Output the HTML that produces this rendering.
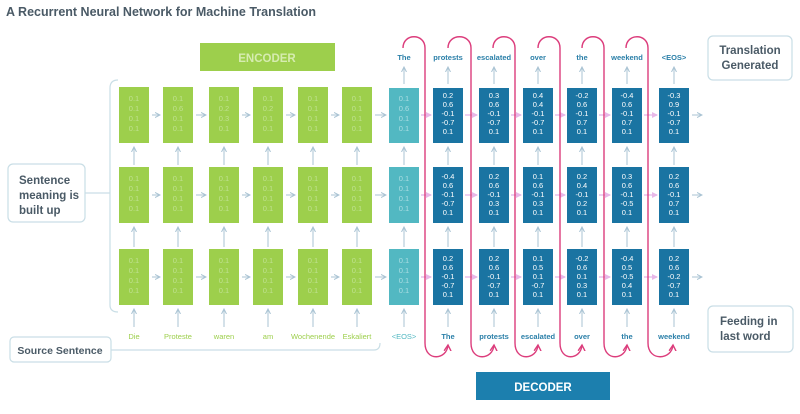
<!DOCTYPE html>
<html><head><meta charset="utf-8"><style>
html,body{margin:0;padding:0;background:#fff;width:800px;height:414px;overflow:hidden}
text{font-family:"Liberation Sans",sans-serif}
</style></head><body>
<svg width="800" height="414" viewBox="0 0 800 414" xmlns="http://www.w3.org/2000/svg">
<defs>
<marker id="a" markerWidth="6" markerHeight="6" refX="5" refY="3" orient="auto" markerUnits="userSpaceOnUse"><path d="M0,0.5 L5,3 L0,5.5" fill="none" stroke="#a9c3d3" stroke-width="1"/></marker>
<marker id="p" markerWidth="7" markerHeight="7" refX="5" refY="3.5" orient="auto" markerUnits="userSpaceOnUse"><path d="M0,0.5 L6,3.5 L0,6.5 Z" fill="#e8b8e8"/></marker>
<marker id="r" markerWidth="8" markerHeight="8" refX="6" refY="4" orient="auto" markerUnits="userSpaceOnUse"><path d="M0,0.5 L6,4 L0,7.5" fill="none" stroke="#dc3d7c" stroke-width="1.4"/></marker>
</defs>
<text x="6" y="16" font-size="12.5" font-weight="bold" fill="#4a5a66">A Recurrent Neural Network for Machine Translation</text>

<rect x="200" y="43" width="135" height="28" fill="#9dcf4c"/>
<text x="267" y="62" font-size="11.5" font-weight="bold" fill="#d6ecb0" text-anchor="middle">ENCODER</text>
<rect x="476" y="372" width="134" height="28" fill="#1c7fae"/>
<text x="543" y="391" font-size="11.5" font-weight="bold" fill="#fff" text-anchor="middle">DECODER</text>

<g fill="#fff" stroke="#c9dee6" stroke-width="1.2">
<rect x="8" y="164" width="77" height="58" rx="5"/>
<rect x="10" y="337" width="101" height="25" rx="4"/>
<rect x="708" y="36" width="84" height="44" rx="5"/>
<rect x="708" y="306" width="85" height="46" rx="5"/>
</g>
<g font-size="11.5" font-weight="bold" fill="#4a5a66">
<text x="19" y="184">Sentence</text><text x="19" y="199">meaning is</text><text x="19" y="214">built up</text>
<text x="60" y="354" font-size="10.5" text-anchor="middle">Source Sentence</text>
<text x="750" y="54" text-anchor="middle">Translation</text><text x="750" y="69" text-anchor="middle">Generated</text>
<text x="720" y="325">Feeding in</text><text x="720" y="340">last word</text>
</g>
<g fill="none" stroke="#c9dee6" stroke-width="1.2">
<path d="M118,80 Q110,80 110,88 L110,305 Q110,312 118,312"/>
<path d="M85,193 L110,193"/>
<path d="M111,350 L374,350 Q380,350 380,343"/>
</g>

<g fill="#9dcf4c">
<rect x="119" y="87" width="30" height="56"/><rect x="163" y="87" width="30" height="56"/><rect x="209" y="87" width="30" height="56"/><rect x="253" y="87" width="30" height="56"/><rect x="298" y="87" width="30" height="56"/><rect x="342" y="87" width="30" height="56"/>
<rect x="119" y="167" width="30" height="56"/><rect x="163" y="167" width="30" height="56"/><rect x="209" y="167" width="30" height="56"/><rect x="253" y="167" width="30" height="56"/><rect x="298" y="167" width="30" height="56"/><rect x="342" y="167" width="30" height="56"/>
<rect x="119" y="249" width="30" height="56"/><rect x="163" y="249" width="30" height="56"/><rect x="209" y="249" width="30" height="56"/><rect x="253" y="249" width="30" height="56"/><rect x="298" y="249" width="30" height="56"/><rect x="342" y="249" width="30" height="56"/>
</g>
<g fill="#52b8c2">
<rect x="389" y="88" width="30" height="55"/><rect x="389" y="167" width="30" height="56"/><rect x="389" y="249" width="30" height="56"/>
</g>
<g fill="#1a74a2">
<rect x="433" y="88" width="30" height="55"/><rect x="479" y="88" width="30" height="55"/><rect x="523" y="88" width="30" height="55"/><rect x="567" y="88" width="30" height="55"/><rect x="612" y="88" width="30" height="55"/><rect x="659" y="88" width="30" height="55"/>
<rect x="433" y="167" width="30" height="56"/><rect x="479" y="167" width="30" height="56"/><rect x="523" y="167" width="30" height="56"/><rect x="567" y="167" width="30" height="56"/><rect x="612" y="167" width="30" height="56"/><rect x="659" y="167" width="30" height="56"/>
<rect x="433" y="249" width="30" height="56"/><rect x="479" y="249" width="30" height="56"/><rect x="523" y="249" width="30" height="56"/><rect x="567" y="249" width="30" height="56"/><rect x="612" y="249" width="30" height="56"/><rect x="659" y="249" width="30" height="56"/>
</g>

<g font-size="7.5" fill="#c8e6a0" text-anchor="middle" opacity="0.8">
<text x="134" y="101">0.1</text><text x="134" y="111">0.1</text><text x="134" y="121">0.1</text><text x="134" y="131">0.1</text><text x="178" y="101">0.1</text><text x="178" y="111">0.6</text><text x="178" y="121">0.1</text><text x="178" y="131">0.1</text><text x="224" y="101">0.1</text><text x="224" y="111">0.2</text><text x="224" y="121">0.3</text><text x="224" y="131">0.1</text><text x="268" y="101">0.1</text><text x="268" y="111">0.2</text><text x="268" y="121">0.1</text><text x="268" y="131">0.1</text><text x="313" y="101">0.1</text><text x="313" y="111">0.1</text><text x="313" y="121">0.1</text><text x="313" y="131">0.1</text><text x="357" y="101">0.1</text><text x="357" y="111">0.1</text><text x="357" y="121">0.1</text><text x="357" y="131">0.1</text>
<text x="134" y="181">0.1</text><text x="134" y="191">0.1</text><text x="134" y="201">0.1</text><text x="134" y="211">0.1</text><text x="178" y="181">0.1</text><text x="178" y="191">0.1</text><text x="178" y="201">0.1</text><text x="178" y="211">0.1</text><text x="224" y="181">0.1</text><text x="224" y="191">0.1</text><text x="224" y="201">0.1</text><text x="224" y="211">0.1</text><text x="268" y="181">0.1</text><text x="268" y="191">0.1</text><text x="268" y="201">0.1</text><text x="268" y="211">0.1</text><text x="313" y="181">0.1</text><text x="313" y="191">0.1</text><text x="313" y="201">0.1</text><text x="313" y="211">0.1</text><text x="357" y="181">0.1</text><text x="357" y="191">0.1</text><text x="357" y="201">0.1</text><text x="357" y="211">0.1</text>
<text x="134" y="263">0.1</text><text x="134" y="273">0.1</text><text x="134" y="283">0.1</text><text x="134" y="293">0.1</text><text x="178" y="263">0.1</text><text x="178" y="273">0.1</text><text x="178" y="283">0.1</text><text x="178" y="293">0.1</text><text x="224" y="263">0.1</text><text x="224" y="273">0.1</text><text x="224" y="283">0.1</text><text x="224" y="293">0.1</text><text x="268" y="263">0.1</text><text x="268" y="273">0.1</text><text x="268" y="283">0.1</text><text x="268" y="293">0.1</text><text x="313" y="263">0.1</text><text x="313" y="273">0.1</text><text x="313" y="283">0.1</text><text x="313" y="293">0.1</text><text x="357" y="263">0.1</text><text x="357" y="273">0.1</text><text x="357" y="283">0.1</text><text x="357" y="293">0.1</text>
</g>
<g font-size="7.5" fill="#bfe6ea" text-anchor="middle" opacity="0.8">
<text x="404" y="101">0.1</text><text x="404" y="111">0.6</text><text x="404" y="121">0.1</text><text x="404" y="131">0.1</text>
<text x="404" y="181">0.1</text><text x="404" y="191">0.1</text><text x="404" y="201">0.1</text><text x="404" y="211">0.1</text>
<text x="404" y="263">0.1</text><text x="404" y="273">0.1</text><text x="404" y="283">0.1</text><text x="404" y="293">0.1</text>
</g>
<g font-size="7.5" fill="#fff" text-anchor="middle">
<text x="448" y="98">0.2</text><text x="448" y="107">0.6</text><text x="448" y="116">-0.1</text><text x="448" y="125">-0.7</text><text x="448" y="134">0.1</text>
<text x="494" y="98">0.3</text><text x="494" y="107">0.6</text><text x="494" y="116">-0.1</text><text x="494" y="125">-0.7</text><text x="494" y="134">0.1</text>
<text x="538" y="98">0.4</text><text x="538" y="107">0.4</text><text x="538" y="116">-0.1</text><text x="538" y="125">-0.7</text><text x="538" y="134">0.1</text>
<text x="582" y="98">-0.2</text><text x="582" y="107">0.6</text><text x="582" y="116">-0.1</text><text x="582" y="125">0.7</text><text x="582" y="134">0.1</text>
<text x="627" y="98">-0.4</text><text x="627" y="107">0.6</text><text x="627" y="116">-0.1</text><text x="627" y="125">0.7</text><text x="627" y="134">0.1</text>
<text x="674" y="98">-0.3</text><text x="674" y="107">0.9</text><text x="674" y="116">-0.1</text><text x="674" y="125">-0.7</text><text x="674" y="134">0.1</text>
<text x="448" y="179">-0.4</text><text x="448" y="188">0.6</text><text x="448" y="197">-0.1</text><text x="448" y="206">-0.7</text><text x="448" y="215">0.1</text>
<text x="494" y="179">0.2</text><text x="494" y="188">0.6</text><text x="494" y="197">-0.1</text><text x="494" y="206">0.3</text><text x="494" y="215">0.1</text>
<text x="538" y="179">0.1</text><text x="538" y="188">0.6</text><text x="538" y="197">-0.1</text><text x="538" y="206">0.3</text><text x="538" y="215">0.1</text>
<text x="582" y="179">0.2</text><text x="582" y="188">0.4</text><text x="582" y="197">-0.1</text><text x="582" y="206">0.2</text><text x="582" y="215">0.1</text>
<text x="627" y="179">0.3</text><text x="627" y="188">0.6</text><text x="627" y="197">-0.1</text><text x="627" y="206">-0.5</text><text x="627" y="215">0.1</text>
<text x="674" y="179">0.2</text><text x="674" y="188">0.6</text><text x="674" y="197">-0.1</text><text x="674" y="206">0.7</text><text x="674" y="215">0.1</text>
<text x="448" y="261">0.2</text><text x="448" y="270">0.6</text><text x="448" y="279">-0.1</text><text x="448" y="288">-0.7</text><text x="448" y="297">0.1</text>
<text x="494" y="261">0.2</text><text x="494" y="270">0.6</text><text x="494" y="279">-0.1</text><text x="494" y="288">-0.7</text><text x="494" y="297">0.1</text>
<text x="538" y="261">0.1</text><text x="538" y="270">0.5</text><text x="538" y="279">0.1</text><text x="538" y="288">-0.7</text><text x="538" y="297">0.1</text>
<text x="582" y="261">-0.2</text><text x="582" y="270">0.6</text><text x="582" y="279">0.1</text><text x="582" y="288">0.3</text><text x="582" y="297">0.1</text>
<text x="627" y="261">-0.4</text><text x="627" y="270">0.5</text><text x="627" y="279">-0.5</text><text x="627" y="288">0.4</text><text x="627" y="297">0.1</text>
<text x="674" y="261">0.2</text><text x="674" y="270">0.6</text><text x="674" y="279">-0.2</text><text x="674" y="288">-0.7</text><text x="674" y="297">0.1</text>
</g>

<g stroke="#a9c3d3" stroke-width="1" marker-end="url(#a)">
<path d="M152,115 H160"/><path d="M196,115 H206"/><path d="M242,115 H250"/><path d="M286,115 H295"/><path d="M331,115 H339"/><path d="M375,115 H386"/><path d="M692,115 H702"/>
<path d="M152,195 H160"/><path d="M196,195 H206"/><path d="M242,195 H250"/><path d="M286,195 H295"/><path d="M331,195 H339"/><path d="M375,195 H386"/><path d="M692,195 H702"/>
<path d="M152,277 H160"/><path d="M196,277 H206"/><path d="M242,277 H250"/><path d="M286,277 H295"/><path d="M331,277 H339"/><path d="M375,277 H386"/><path d="M692,277 H702"/>
</g>
<g stroke="#a9c3d3" stroke-width="1" marker-end="url(#a)">
<path d="M134,165 V147"/><path d="M178,165 V147"/><path d="M224,165 V147"/><path d="M268,165 V147"/><path d="M313,165 V147"/><path d="M357,165 V147"/><path d="M404,165 V147"/><path d="M448,165 V147"/><path d="M494,165 V147"/><path d="M538,165 V147"/><path d="M582,165 V147"/><path d="M627,165 V147"/><path d="M674,165 V147"/>
<path d="M134,247 V227"/><path d="M178,247 V227"/><path d="M224,247 V227"/><path d="M268,247 V227"/><path d="M313,247 V227"/><path d="M357,247 V227"/><path d="M404,247 V227"/><path d="M448,247 V227"/><path d="M494,247 V227"/><path d="M538,247 V227"/><path d="M582,247 V227"/><path d="M627,247 V227"/><path d="M674,247 V227"/>
<path d="M134,327 V309"/><path d="M178,327 V309"/><path d="M224,327 V309"/><path d="M268,327 V309"/><path d="M313,327 V309"/><path d="M357,327 V309"/><path d="M404,327 V309"/><path d="M448,327 V309"/><path d="M494,327 V309"/><path d="M538,327 V309"/><path d="M582,327 V309"/><path d="M627,327 V309"/><path d="M674,327 V309"/>
<path d="M404,84 V67"/><path d="M448,84 V67"/><path d="M494,84 V67"/><path d="M538,84 V67"/><path d="M582,84 V67"/><path d="M627,84 V67"/><path d="M674,84 V67"/>
</g>
<g stroke="#e8c0ec" stroke-width="1.5" marker-end="url(#p)">
<path d="M421,115 H431"/><path d="M465,115 H477"/><path d="M511,115 H521"/><path d="M555,115 H565"/><path d="M599,115 H610"/><path d="M644,115 H657"/>
<path d="M421,195 H431"/><path d="M465,195 H477"/><path d="M511,195 H521"/><path d="M555,195 H565"/><path d="M599,195 H610"/><path d="M644,195 H657"/>
<path d="M421,277 H431"/><path d="M465,277 H477"/><path d="M511,277 H521"/><path d="M555,277 H565"/><path d="M599,277 H610"/><path d="M644,277 H657"/>
</g>
<g fill="none" stroke="#dc3d7c" stroke-width="1.4">
<path d="M403,48 C403,33 425,33 425,48 L425,343 C425,362 447,360 448,345" marker-end="url(#r)"/>
<path d="M448,48 C448,33 471,33 471,48 L471,343 C471,362 493,360 494,345" marker-end="url(#r)"/>
<path d="M493,48 C493,33 515,33 515,48 L515,343 C515,362 537,360 538,345" marker-end="url(#r)"/>
<path d="M538,48 C538,33 560,33 560,48 L560,343 C560,362 581,360 582,345" marker-end="url(#r)"/>
<path d="M582,48 C582,33 604,33 604,48 L604,343 C604,362 626,360 627,345" marker-end="url(#r)"/>
<path d="M626,48 C626,33 648,33 648,48 L648,343 C648,362 672,360 673,345" marker-end="url(#r)"/>
</g>

<g font-size="7.5" font-weight="bold" fill="#2a7fa8" text-anchor="middle">
<text x="404" y="60">The</text><text x="448" y="60">protests</text><text x="494" y="60">escalated</text><text x="538" y="60">over</text><text x="582" y="60">the</text><text x="627" y="60">weekend</text><text x="674" y="60">&lt;EOS&gt;</text>
<text x="448" y="339">The</text><text x="494" y="339">protests</text><text x="538" y="339">escalated</text><text x="582" y="339">over</text><text x="627" y="339">the</text><text x="674" y="339">weekend</text>
</g>
<g font-size="7.5" fill="#9dcf4c" text-anchor="middle">
<text x="134" y="339">Die</text><text x="178" y="339">Proteste</text><text x="224" y="339">waren</text><text x="268" y="339">am</text><text x="313" y="339">Wochenende</text><text x="357" y="339">Eskaliert</text>
</g>
<text x="404" y="339" font-size="7.5" fill="#52b8c2" text-anchor="middle">&lt;EOS&gt;</text>
</svg>
</body></html>
